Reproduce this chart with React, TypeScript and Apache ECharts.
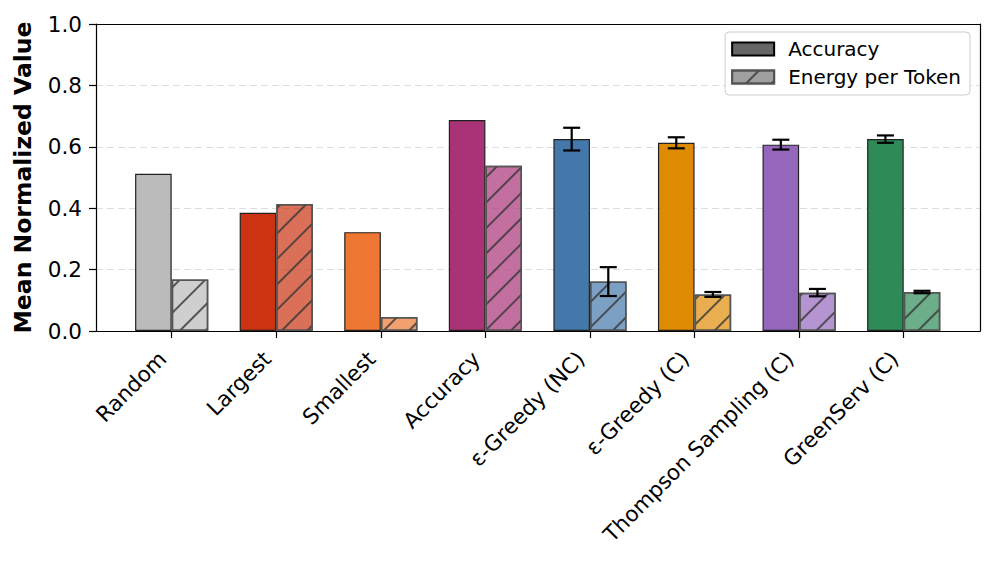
import React, { useEffect, useRef } from "react";
import * as echarts from "echarts";

const categories = [
  "Random",
  "Largest",
  "Smallest",
  "Accuracy",
  "ε-Greedy (NC)",
  "ε-Greedy (C)",
  "Thompson Sampling (C)",
  "GreenServ (C)",
];
const accuracyMean = [0.512, 0.385, 0.322, 0.687, 0.625, 0.613, 0.607, 0.625];
const accuracyErr = [0, 0, 0, 0, 0.037, 0.018, 0.016, 0.012];
const energyMean = [0.168, 0.414, 0.046, 0.538, 0.161, 0.119, 0.125, 0.127];
const energyErr = [0, 0, 0, 0, 0.047, 0.008, 0.012, 0.004];
const baseColors = [
  "#bbbbbb",
  "#cc3311",
  "#ee7733",
  "#aa3377",
  "#4477aa",
  "#de8b04",
  "#9467bd",
  "#2e8b57",
];
const yTickValues = [0, 0.2, 0.4, 0.6, 0.8, 1.0];

function withAlpha(hex: string, a: number) {
  const r = parseInt(hex.slice(1, 3), 16);
  const g = parseInt(hex.slice(3, 5), 16);
  const b = parseInt(hex.slice(5, 7), 16);
  return `rgba(${r},${g},${b},${a})`;
}

const FONT = "DejaVu Sans";
const SPINE = { show: true, onZero: false, lineStyle: { color: "#000", width: 1.2 } };

export default function App() {
  const ref = useRef<HTMLDivElement>(null);
  useEffect(() => {
    if (!ref.current) return;
    const chart = echarts.init(ref.current, null, { renderer: "svg" });
    const hatch = {
      symbol: "rect",
      symbolSize: 1,
      dashArrayX: [1, 0],
      dashArrayY: [2, 16],
      rotation: -Math.PI / 4,
      color: "rgba(55,55,55,0.8)",
    };
    const errRender = (params: any, api: any) => {
      const i = api.value(0);
      const m = api.value(1);
      const e = api.value(2);
      const s = api.value(3);
      if (!e) return null;
      const band = api.size([1, 0])[0];
      const x = api.coord([i, m])[0] + s * band * 0.175;
      const yt = api.coord([i, m + e])[1];
      const yb = api.coord([i, m - e])[1];
      const cap = 8.5;
      const st = { stroke: "#000", lineWidth: 2.2 };
      return {
        type: "group",
        children: [
          { type: "line", shape: { x1: x, y1: yt, x2: x, y2: yb }, style: st },
          { type: "line", shape: { x1: x - cap, y1: yt, x2: x + cap, y2: yt }, style: st },
          { type: "line", shape: { x1: x - cap, y1: yb, x2: x + cap, y2: yb }, style: st },
        ],
      };
    };
    const option: any = {
      animation: false,
      textStyle: { fontFamily: FONT },
      legend: {
        data: ["Accuracy", "Energy per Token"],
        orient: "vertical",
        right: 25,
        top: 32,
        padding: [7, 9, 8, 6],
        itemWidth: 42,
        itemHeight: 13,
        itemGap: 8,
        icon: "rect",
        selectedMode: false,
        backgroundColor: "rgba(255,255,255,0.85)",
        borderColor: "#cccccc",
        borderWidth: 1,
        borderRadius: 4,
        textStyle: {
          fontFamily: FONT,
          fontSize: 20,
          color: "#000",
          lineHeight: 20,
          padding: [0, 0, 0, 9],
        },
      },
      grid: [
        { left: 96, right: 15, top: 24, bottom: 233 },
        { left: 119.4, right: 39, top: 24, bottom: 233 },
      ],
      xAxis: [
        {
          type: "value",
          gridIndex: 0,
          min: 0,
          max: 1,
          position: "bottom",
          axisLine: SPINE,
          axisTick: { show: false },
          axisLabel: { show: false },
          splitLine: { show: false },
        },
        {
          type: "category",
          gridIndex: 1,
          data: categories,
          boundaryGap: true,
          axisLine: { show: false },
          axisTick: {
            show: true,
            alignWithLabel: true,
            length: 7,
            lineStyle: { color: "#000", width: 1.2 },
          },
          axisLabel: {
            rotate: 45,
            margin: 15,
            padding: [0, 13, 0, 0],
            fontSize: 21.5,
            fontFamily: FONT,
            color: "#000",
            interval: 0,
          },
        },
        {
          type: "value",
          gridIndex: 0,
          min: 0,
          max: 1,
          position: "top",
          axisLine: SPINE,
          axisTick: { show: false },
          axisLabel: { show: false },
          splitLine: { show: false },
        },
      ],
      yAxis: [
        {
          type: "value",
          gridIndex: 0,
          min: 0,
          max: 1,
          interval: 0.2,
          name: "Mean Normalized Value",
          nameLocation: "middle",
          nameGap: 61,
          nameTextStyle: {
            fontFamily: FONT,
            fontSize: 23.5,
            fontWeight: "bold",
            color: "#000",
          },
          axisLine: SPINE,
          axisTick: { show: true, length: 7, lineStyle: { color: "#000", width: 1.2 } },
          axisLabel: {
            margin: 14,
            fontSize: 21.5,
            fontFamily: FONT,
            color: "#000",
            formatter: (v: number) =>
              yTickValues.some((t) => Math.abs(t - v) < 1e-9) ? v.toFixed(1) : "",
          },
          splitLine: {
            show: true,
            showMinLine: false,
            showMaxLine: false,
            lineStyle: { color: "#dcdcdc", type: [7, 4], width: 1 },
          },
        },
        { type: "value", gridIndex: 1, min: 0, max: 1, show: false },
        {
          type: "value",
          gridIndex: 0,
          min: 0,
          max: 1,
          position: "right",
          axisLine: SPINE,
          axisTick: { show: false },
          axisLabel: { show: false },
          splitLine: { show: false },
        },
      ],
      series: [
        {
          name: "Accuracy",
          type: "bar",
          xAxisIndex: 1,
          yAxisIndex: 1,
          barWidth: "35%",
          barGap: "0%",
          itemStyle: { color: "#666666", borderColor: "#000", borderWidth: 1.2 },
          data: accuracyMean.map((v, i) => ({
            value: v,
            itemStyle: { color: baseColors[i], borderColor: "#222", borderWidth: 1.2 },
          })),
          z: 2,
        },
        {
          name: "Energy per Token",
          type: "bar",
          xAxisIndex: 1,
          yAxisIndex: 1,
          barWidth: "35%",
          barGap: "0%",
          itemStyle: {
            color: "#a0a0a0",
            borderColor: "#555555",
            borderWidth: 1.5,
            decal: hatch,
          },
          data: energyMean.map((v, i) => ({
            value: v,
            itemStyle: {
              color: withAlpha(baseColors[i], 0.7),
              borderColor: "#555555",
              borderWidth: 1.5,
              decal: hatch,
            },
          })),
          z: 2,
        },
        {
          type: "custom",
          xAxisIndex: 1,
          yAxisIndex: 1,
          renderItem: errRender,
          data: accuracyMean.map((v, i) => [i, v, accuracyErr[i], -1]),
          z: 5,
          silent: true,
        },
        {
          type: "custom",
          xAxisIndex: 1,
          yAxisIndex: 1,
          renderItem: errRender,
          data: energyMean.map((v, i) => [i, v, energyErr[i], 1]),
          z: 5,
          silent: true,
        },
      ],
    };
    chart.setOption(option);
    return () => chart.dispose();
  }, []);
  return (
    <div
      ref={ref}
      style={{ position: "fixed", left: 0, top: 0, width: 995, height: 564, background: "#fff" }}
    />
  );
}
